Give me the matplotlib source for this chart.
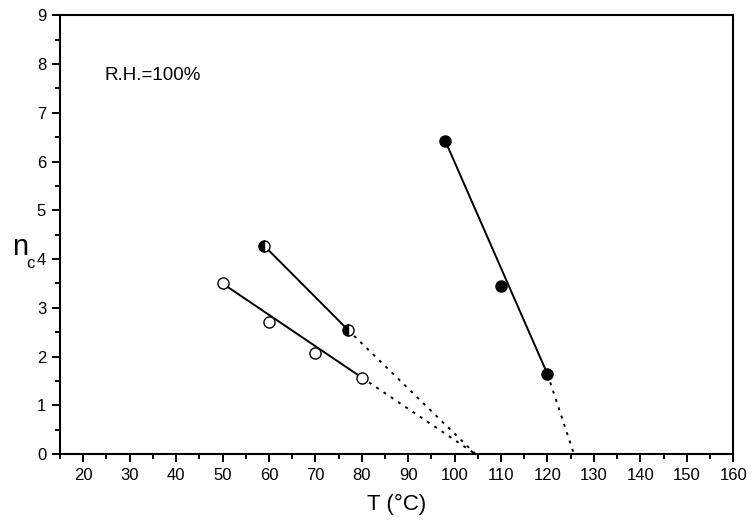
import matplotlib.pyplot as plt
from matplotlib.ticker import MultipleLocator

plt.rcParams['font.family'] = ['Liberation Sans', 'DejaVu Sans']

# open circles
t_open = [50, 60, 70, 80]
n_open = [3.50, 2.71, 2.08, 1.57]
# half-filled circles
t_half = [59, 77]
n_half = [4.27, 2.55]
# filled circles
t_full = [98, 110, 120]
n_full = [6.42, 3.45, 1.64]
# extrapolated temperatures where n_c -> 0
t0_open = 104.5
t0_half = 104.5
t0_full = 125.7

fig = plt.figure(figsize=(7.53, 5.28), dpi=100)
ax = fig.add_axes([0.0797, 0.140, 0.894, 0.831])

series = [
    (t_open, n_open, t0_open, dict(markerfacecolor='white')),
    (t_half, n_half, t0_half, dict(markerfacecolor='black', fillstyle='left',
                                   markerfacecoloralt='white')),
    (t_full, n_full, t0_full, dict(markerfacecolor='black')),
]
for t, n, t0, mstyle in series:
    # solid line through first and last point, dotted extrapolation to zero
    ax.plot([t[0], t[-1]], [n[0], n[-1]], color='black', lw=1.4, zorder=2)
    ax.plot([t[-1], t0], [n[-1], 0], color='black', lw=1.4, ls=(0, (1.5, 3)), zorder=2)
    ax.plot(t, n, 'o', ms=8, markeredgecolor='black', markeredgewidth=1.0,
            zorder=3, **mstyle)

ax.set_xlim(15, 160)
ax.set_ylim(0, 9)
ax.xaxis.set_major_locator(MultipleLocator(10))
ax.xaxis.set_minor_locator(MultipleLocator(5))
ax.yaxis.set_major_locator(MultipleLocator(1))
ax.yaxis.set_minor_locator(MultipleLocator(0.5))
ax.tick_params(which='both', direction='out', width=1.4, labelsize=12,
               top=False, right=False)
ax.tick_params(which='major', length=6, pad=4)
ax.tick_params(which='minor', length=3.5)
for s in ax.spines.values():
    s.set_linewidth(1.5)

ax.set_xlabel('T (°C)', fontsize=16, labelpad=8)
# y label: "n" with a low subscript "c" (Origin style)
ax.text(-0.071, 0.453, 'n', fontsize=21, transform=ax.transAxes,
        ha='left', va='baseline', clip_on=False)
ax.text(-0.050, 0.424, 'c', fontsize=12, transform=ax.transAxes,
        ha='left', va='baseline', clip_on=False)

ax.text(24.5, 7.77, 'R.H.=100%', fontsize=13.5, va='center')

fig.savefig('out.png', dpi=100)
